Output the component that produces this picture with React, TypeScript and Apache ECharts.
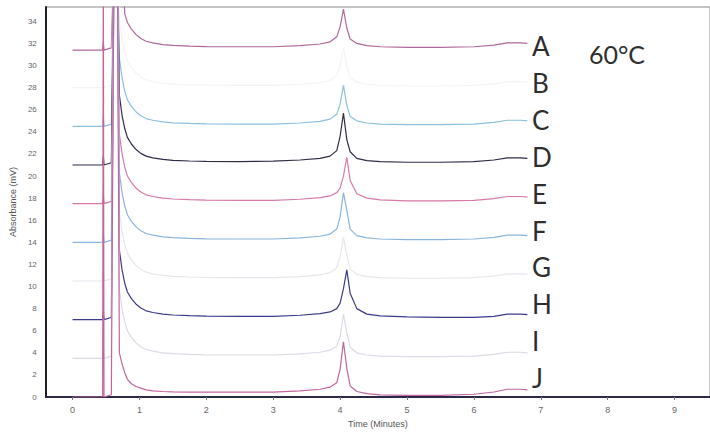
import React, { useEffect, useRef } from "react";
import * as echarts from "echarts";

// Sample times (minutes)
const times = [0, 0.45, 0.46, 0.47, 0.48, 0.58, 0.62, 0.67, 0.7, 0.74, 0.78, 0.82, 0.88, 0.95, 1.02, 1.1, 1.2, 1.35, 1.5, 1.75, 2.0, 2.5, 3.0, 3.4, 3.7, 3.85, 3.95, 4.0, 4.05, 4.1, 4.15, 4.25, 4.4, 4.6, 5.0, 5.5, 6.0, 6.3, 6.5, 6.7, 6.8];

// Absorbance (mV) per trace (40 = off scale)
const traceA = [31.4, 31.4, 32.2, 31.4, 31.4, 31.6, 40, 40, 40, 40, 34.7, 33.9, 33.3, 32.8, 32.45, 32.2, 32.05, 31.9, 31.82, 31.76, 31.72, 31.7, 31.7, 31.8, 31.95, 32.15, 32.6, 33.5, 35.1, 33.4, 32.4, 32.0, 31.8, 31.7, 31.65, 31.65, 31.7, 31.85, 32.05, 32.05, 32.0];
const traceB = [28, 28, 28.8, 28, 28, 28.2, 40, 40, 34.2, 32.4, 31.2, 30.4, 29.8, 29.3, 28.95, 28.7, 28.55, 28.4, 28.32, 28.26, 28.22, 28.2, 28.2, 28.3, 28.45, 28.65, 29.1, 30.0, 31.6, 29.9, 28.9, 28.5, 28.3, 28.2, 28.15, 28.15, 28.2, 28.35, 28.55, 28.55, 28.5];
const traceC = [24.5, 24.5, 25.4, 24.5, 24.5, 24.7, 40, 40, 30.7, 28.9, 27.7, 26.9, 26.3, 25.8, 25.45, 25.2, 25.05, 24.9, 24.82, 24.76, 24.72, 24.7, 24.7, 24.8, 24.95, 25.15, 25.6, 26.5, 28.2, 26.4, 25.4, 25.0, 24.8, 24.7, 24.65, 24.65, 24.7, 24.85, 25.05, 25.05, 25.0];
const traceD = [21, 21, 21.8, 21, 21, 21.2, 40, 40, 27.3, 25.5, 24.3, 23.5, 22.9, 22.4, 22.05, 21.8, 21.65, 21.5, 21.42, 21.36, 21.32, 21.3, 21.35, 21.45, 21.6, 21.8, 22.3, 23.6, 25.7, 23.3, 22.2, 21.6, 21.4, 21.3, 21.25, 21.25, 21.3, 21.45, 21.65, 21.65, 21.6];
const traceE = [17.5, 17.5, 18.3, 17.5, 17.5, 17.7, 40, 40, 23.8, 22.0, 20.8, 20.0, 19.4, 18.9, 18.55, 18.3, 18.15, 18.0, 17.92, 17.86, 17.82, 17.8, 17.8, 17.9, 18.05, 18.2, 18.5, 18.9, 20.0, 21.7, 19.6, 18.4, 18.0, 17.85, 17.75, 17.75, 17.8, 17.95, 18.15, 18.15, 18.1];
const traceF = [14, 14, 14.8, 14, 14, 14.2, 40, 40, 20.3, 18.5, 17.3, 16.5, 15.9, 15.4, 15.05, 14.8, 14.65, 14.5, 14.42, 14.36, 14.32, 14.3, 14.3, 14.4, 14.55, 14.75, 15.2, 16.3, 18.5, 16.9, 15.2, 14.6, 14.4, 14.3, 14.25, 14.25, 14.3, 14.45, 14.65, 14.65, 14.6];
const traceG = [10.5, 10.5, 11.3, 10.5, 10.5, 10.7, 40, 40, 16.8, 15.0, 13.8, 13.0, 12.4, 11.9, 11.55, 11.3, 11.15, 11.0, 10.92, 10.86, 10.82, 10.8, 10.8, 10.9, 11.05, 11.25, 11.7, 12.7, 14.5, 12.8, 11.6, 11.1, 10.9, 10.8, 10.75, 10.75, 10.8, 10.95, 11.15, 11.15, 11.1];
const traceH = [7, 7, 7.8, 7, 7, 7.2, 40, 40, 13.3, 11.5, 10.3, 9.5, 8.9, 8.4, 8.05, 7.8, 7.65, 7.5, 7.42, 7.36, 7.32, 7.3, 7.3, 7.4, 7.55, 7.7, 8.0, 8.5, 9.8, 11.5, 9.4, 8.0, 7.5, 7.35, 7.25, 7.2, 7.2, 7.3, 7.5, 7.5, 7.45];
const traceI = [3.5, 3.5, 4.3, 3.5, 3.5, 3.7, 40, 40, 9.8, 8.0, 6.8, 6.0, 5.4, 4.9, 4.55, 4.3, 4.15, 4.0, 3.92, 3.86, 3.82, 3.8, 3.8, 3.9, 4.05, 4.25, 4.6, 5.5, 7.5, 5.8, 4.5, 4.0, 3.8, 3.7, 3.65, 3.65, 3.7, 3.85, 4.05, 4.05, 4.0];
const traceJ = [0, 0, 40, 0, 0, 0.2, 40, 40, 4.0, 3.0, 2.2, 1.6, 1.2, 0.95, 0.8, 0.65, 0.55, 0.5, 0.47, 0.45, 0.45, 0.45, 0.45, 0.55, 0.7, 0.9, 1.3, 2.5, 5.0, 2.6, 1.0, 0.5, 0.3, 0.2, 0.15, 0.15, 0.25, 0.45, 0.7, 0.7, 0.65];

const traceNames = ["A", "B", "C", "D", "E", "F", "G", "H", "I", "J"];
const traceValues = [traceA, traceB, traceC, traceD, traceE, traceF, traceG, traceH, traceI, traceJ];
const traceColors = ["#b0689a", "#f6f2f6", "#8cc0de", "#2d2d4a", "#d77aa8", "#8ab6dc", "#e6e6ee", "#3a3a8c", "#dcdae6", "#c4649e"];

const xTicks = [0, 1, 2, 3, 4, 5, 6, 7, 8, 9];
const yTicks = [0, 2, 4, 6, 8, 10, 12, 14, 16, 18, 20, 22, 24, 26, 28, 30, 32, 34];
const tempLabel = "60°C";

export default function App() {
  const ref = useRef<HTMLDivElement>(null);
  useEffect(() => {
    if (!ref.current) return;
    const chart = echarts.init(ref.current, null, { renderer: "svg" });
    const labelTop = 46;
    const labelStep = 36.9;
    const graphics: any[] = traceNames.map((n, i) => ({
      type: "text",
      x: 532,
      y: labelTop + i * labelStep,
      style: {
        text: n,
        fontSize: 26,
        fontFamily: "Lato",
        fill: "#2e2e2e",
        textVerticalAlign: "middle",
      },
    }));
    graphics.push({
      type: "text",
      x: 589,
      y: 54,
      style: {
        text: tempLabel,
        fontSize: 25,
        fontFamily: "Lato",
        fill: "#2e2e2e",
        textVerticalAlign: "middle",
      },
    });
    chart.setOption({
      animation: false,
      backgroundColor: "#ffffff",
      grid: { left: 45, right: -2, top: 7, bottom: 35, show: true, borderColor: "#8a8a8a", borderWidth: 1, backgroundColor: "transparent" },
      xAxis: {
        type: "value",
        min: -0.4,
        max: 9.53,
        name: "Time (Minutes)",
        nameLocation: "middle",
        nameGap: 22,
        nameTextStyle: { fontSize: 9, color: "#555", fontFamily: "Liberation Sans" },
        axisLine: { show: true, onZero: false, lineStyle: { color: "#2a2a48", width: 2 } },
        axisTick: { show: true, customValues: xTicks, length: 3, lineStyle: { color: "#777" } },
        axisLabel: { customValues: xTicks, fontSize: 9, color: "#666", margin: 8, fontFamily: "Liberation Sans" },
        splitLine: { show: false },
      },
      yAxis: {
        type: "value",
        min: 0,
        max: 35.3,
        name: "Absorbance (mV)",
        nameLocation: "middle",
        nameGap: 28,
        nameTextStyle: { fontSize: 9, color: "#555", fontFamily: "Liberation Sans" },
        axisLine: { show: true, onZero: false, lineStyle: { color: "#1e1e2a", width: 2 } },
        axisTick: { show: false },
        axisLabel: { customValues: yTicks, fontSize: 8, color: "#666", margin: 9, fontFamily: "Liberation Sans" },
        splitLine: { show: false },
      },
      series: traceNames.map((n, i) => ({
        name: n,
        type: "line",
        showSymbol: false,
        symbol: "none",
        clip: true,
        lineStyle: { color: traceColors[i], width: 1.2 },
        data: times.map((t, k) => [t, traceValues[i][k]]),
        z: 2 + i,
      })),
      graphic: graphics,
    });
    return () => chart.dispose();
  }, []);
  return (
    <div
      ref={ref}
      style={{ position: "absolute", left: 0, top: 0, width: 710, height: 433 }}
    />
  );
}
